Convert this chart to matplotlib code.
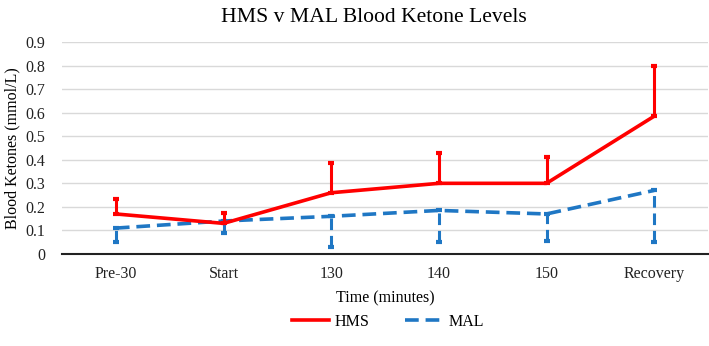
import matplotlib.pyplot as plt

# dati
categories = ["Pre-30", "Start", "130", "140", "150", "Recovery"]
hms = [0.17, 0.13, 0.26, 0.30, 0.30, 0.585]
hms_upper = [0.235, 0.175, 0.385, 0.43, 0.41, 0.80]
mal = [0.11, 0.14, 0.16, 0.185, 0.17, 0.27]
mal_lower = [0.05, 0.09, 0.03, 0.05, 0.055, 0.05]

plt.rcParams['font.family'] = ['Liberation Serif', 'DejaVu Serif']

fig = plt.figure(figsize=(7.09, 3.46), dpi=100)
ax = fig.add_axes([62 / 709, 1 - 254 / 346, 646 / 709, 212 / 346])

x = list(range(len(categories)))
red = "#FF0000"
blue = "#1F77C4"
dash = (0, (3.8, 1.9))

hms_err = [[0] * len(hms), [u - v for u, v in zip(hms_upper, hms)]]
mal_err = [[v - l for v, l in zip(mal, mal_lower)], [0] * len(mal)]

ax.errorbar(x, hms, yerr=hms_err, color=red, lw=2.6, elinewidth=2.2,
            capsize=2.5, capthick=3, label="HMS", zorder=3)
ax.errorbar(x, mal, yerr=mal_err, color=blue, lw=2.6, elinewidth=2.2,
            capsize=2.5, capthick=3, ls=dash, label="MAL", zorder=2)
# tratteggio anche sulle barre d'errore
for line in ax.containers[1].lines[2]:
    line.set_linestyle(dash)

ax.set_xlim(-0.5, len(categories) - 0.5)
ax.set_ylim(0, 0.9)
ax.set_yticks([i / 10 for i in range(10)])
ax.set_yticklabels(["0"] + [f"{v/10:.1f}" for v in range(1, 10)])
ax.set_xticks(x)
ax.set_xticklabels(categories)
ax.tick_params(length=0, labelsize=11.5, colors="#222222")
ax.tick_params(axis='x', pad=9)
ax.tick_params(axis='y', pad=12)
ax.grid(axis='y', color="#D9D9D9", lw=1)
ax.set_axisbelow(True)
for s in ['left', 'right', 'top']:
    ax.spines[s].set_visible(False)
ax.spines['bottom'].set_color("#222222")
ax.spines['bottom'].set_linewidth(1.5)

ax.set_ylabel("Blood Ketones (mmol/L)", fontsize=11.5, labelpad=4)
ax.set_xlabel("Time (minutes)", fontsize=11.5, labelpad=6)
fig.suptitle("HMS v MAL Blood Ketone Levels", fontsize=15.6, x=0.528, y=0.978)

handles = [ax.containers[0].lines[0], ax.containers[1].lines[0]]
fig.legend(handles, ["HMS", "MAL"], loc="center", bbox_to_anchor=(0.547, 1 - 322 / 346),
           ncol=2, frameon=False, fontsize=11.5, handlelength=2.3,
           handletextpad=0.4, columnspacing=2.2)

fig.savefig("out.png", dpi=100)
